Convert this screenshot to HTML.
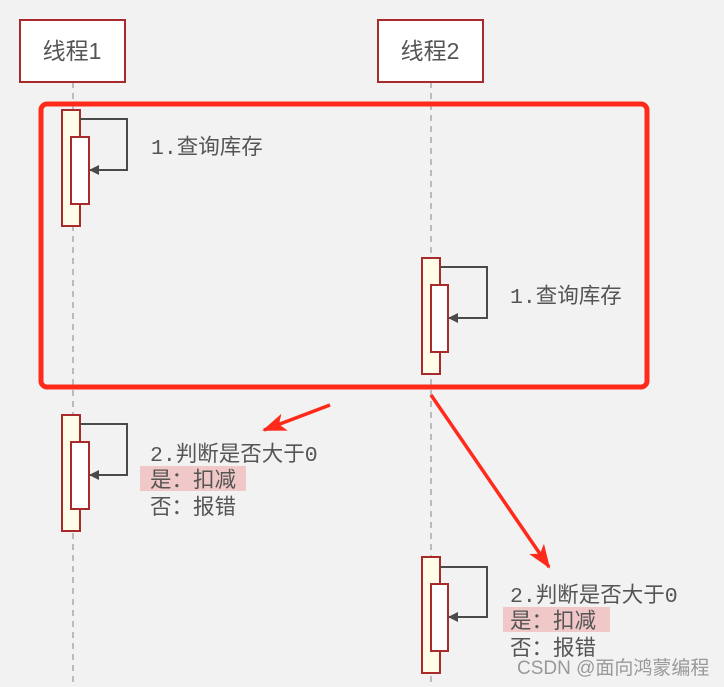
<!DOCTYPE html>
<html><head><meta charset="utf-8"><style>
html,body{margin:0;padding:0;background:#f2f2f2;}
svg{display:block}
text{font-family:"Liberation Mono","Noto Sans CJK SC",monospace;font-size:21.5px;fill:#555;}
.t{font-family:"Liberation Sans","Noto Sans CJK SC",sans-serif;font-size:23px;}
</style></head><body>
<svg width="724" height="687" viewBox="0 0 724 687" xmlns="http://www.w3.org/2000/svg">
<defs>
<marker id="ah" markerWidth="10" markerHeight="10" refX="9" refY="5" orient="auto" markerUnits="userSpaceOnUse"><path d="M0,0 L10,5 L0,10 z" fill="#4a4a4a"/></marker>
<marker id="rh" markerWidth="24" markerHeight="18" refX="22" refY="9" orient="auto" markerUnits="userSpaceOnUse"><path d="M0,0 L24,9 L0,18 L6,9 z" fill="#ff2a1a"/></marker>
</defs>
<line x1="73" y1="82" x2="73" y2="687" stroke="#bbb" stroke-width="2" stroke-dasharray="6,5"/>
<line x1="431" y1="82" x2="431" y2="687" stroke="#bbb" stroke-width="2" stroke-dasharray="6,5"/>
<rect x="20" y="20" width="105" height="62" fill="#fff" stroke="#a82a2a" stroke-width="2"/>
<text class="t" x="72" y="59" text-anchor="middle">线程1</text>
<rect x="378" y="20" width="105" height="62" fill="#fff" stroke="#a82a2a" stroke-width="2"/>
<text class="t" x="430" y="59" text-anchor="middle">线程2</text>

<g stroke="#a82a2a" stroke-width="2">
<rect x="62" y="110" width="18" height="116" fill="#fffde8"/>
<rect x="71" y="137" width="18" height="67" fill="#fff"/>
<rect x="422" y="258" width="18" height="116" fill="#fffde8"/>
<rect x="431" y="285" width="17" height="67" fill="#fff"/>
<rect x="62" y="415" width="18" height="116" fill="#fffde8"/>
<rect x="71" y="442" width="18" height="67" fill="#fff"/>
<rect x="422" y="557" width="18" height="116" fill="#fffde8"/>
<rect x="431" y="584" width="17" height="67" fill="#fff"/>
</g>
<g fill="none" stroke="#4a4a4a" stroke-width="2" marker-end="url(#ah)">
<polyline points="80,119 127,119 127,170 90,170"/>
<polyline points="440,267 487,267 487,318 449,318"/>
<polyline points="80,424 127,424 127,475 90,475"/>
<polyline points="440,567 487,567 487,617 449,617"/>
</g>
<rect x="41" y="104" width="606" height="283" rx="6" fill="none" stroke="#ff2a1a" stroke-width="5"/>
<line x1="330" y1="405" x2="264" y2="430" stroke="#ff2a1a" stroke-width="3.5" marker-end="url(#rh)"/>
<line x1="431" y1="395" x2="549" y2="567" stroke="#ff2a1a" stroke-width="3.5" marker-end="url(#rh)"/>

<text x="151" y="154">1.查询库存</text>
<text x="510" y="303">1.查询库存</text>
<rect x="140" y="466" width="106" height="25" fill="#f0c8c8"/>
<text x="150" y="461">2.判断是否大于0</text>
<text x="150" y="487">是：扣减</text>
<text x="150" y="514">否：报错</text>
<rect x="503" y="607" width="107" height="25" fill="#f0c8c8"/>
<text x="510" y="602">2.判断是否大于0</text>
<text x="510" y="628">是：扣减</text>
<text x="510" y="655">否：报错</text>
<text x="517" y="674" style="font-family:'Liberation Sans','Noto Sans CJK SC',sans-serif;font-size:19px;fill:#999">CSDN @面向鸿蒙编程</text>
</svg>
</body></html>
